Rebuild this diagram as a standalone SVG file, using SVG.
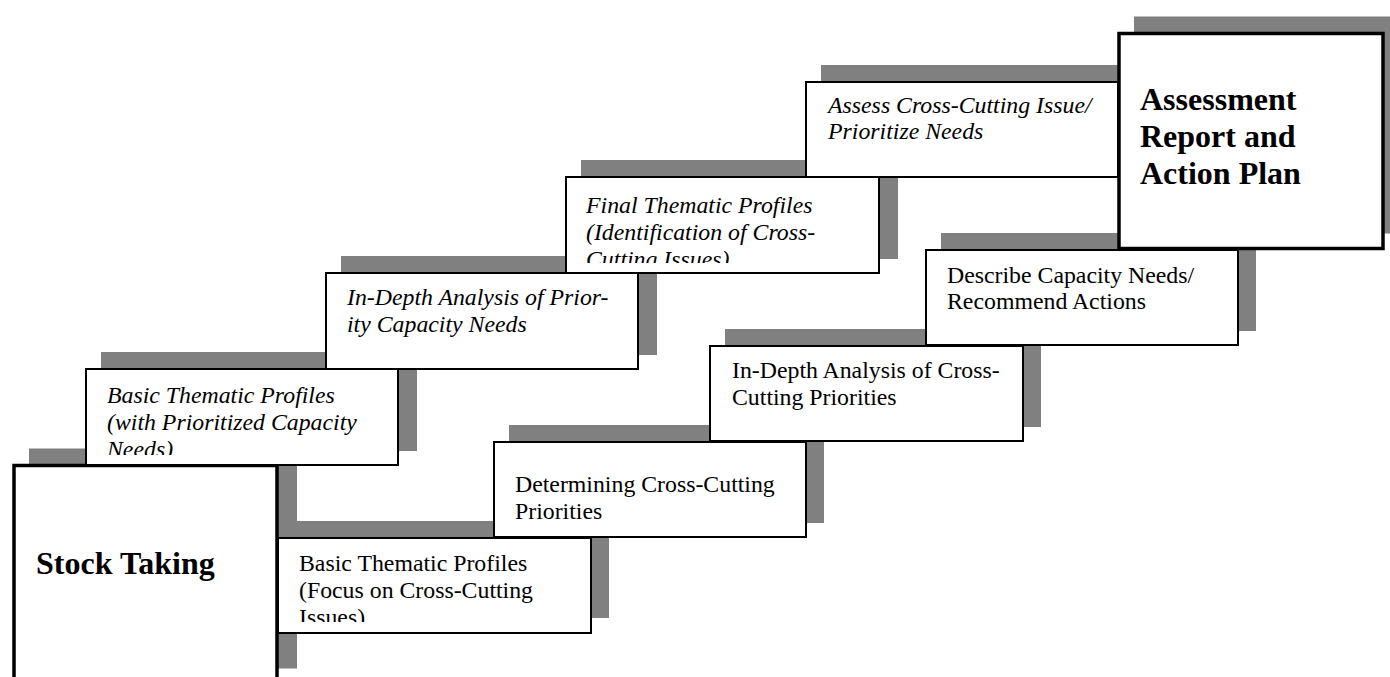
<svg xmlns="http://www.w3.org/2000/svg" width="1390" height="677" viewBox="0 0 1390 677">
<style>
.bg{fill:#ffffff}
.sh{fill:#808080}
.box{fill:#ffffff;stroke:#000000;stroke-width:2}
.big{fill:#ffffff;stroke:#000000;stroke-width:3.5}
.it{font-family:"Liberation Serif","Times New Roman",serif;font-style:italic;font-size:23.8px;fill:#000000}
.rg{font-family:"Liberation Serif","Times New Roman",serif;font-size:23.8px;fill:#000000}
.bd{font-family:"Liberation Serif","Times New Roman",serif;font-weight:bold;font-size:32px;fill:#000000}
</style>
<defs>
<clipPath id="cA1"><rect x="86" y="369" width="312" height="86"/></clipPath>
<clipPath id="cA3"><rect x="566" y="177" width="313" height="86"/></clipPath>
<clipPath id="cB1"><rect x="278" y="538" width="313" height="84"/></clipPath>
</defs>
<rect class="bg" x="0" y="0" width="1390" height="677"/>
<g id="shadows">
<rect class="sh" x="29" y="448.5" width="268" height="220"/>
<rect class="sh" x="101" y="352" width="316" height="99"/>
<rect class="sh" x="341" y="256" width="316" height="99"/>
<rect class="sh" x="581" y="160" width="317" height="99"/>
<rect class="sh" x="821" y="65" width="316" height="98"/>
<rect class="sh" x="1134" y="16.5" width="256" height="217"/>
<rect class="sh" x="293" y="521" width="316" height="97"/>
<rect class="sh" x="509" y="425" width="315" height="98"/>
<rect class="sh" x="725" y="329" width="316" height="98"/>
<rect class="sh" x="941" y="233" width="315" height="98"/>
</g>
<g id="connectors"></g>
<g id="stock-taking">
<rect class="big" x="14" y="465.5" width="263" height="220"/>
<text class="bd" x="36" y="574">Stock Taking</text>
</g>
<g id="basic-thematic-prioritized">
<rect class="box" x="86" y="369" width="312" height="96"/>
<g clip-path="url(#cA1)">
<text class="it" x="107" y="403">Basic Thematic Profiles</text>
<text class="it" x="107" y="430">(with Prioritized Capacity</text>
<text class="it" x="107" y="457">Needs)</text>
</g>
</g>
<g id="indepth-priority">
<rect class="box" x="326" y="273" width="312" height="96"/>
<text class="it" x="347" y="305">In-Depth Analysis of Prior-</text>
<text class="it" x="347" y="332">ity Capacity Needs</text>
</g>
<g id="final-thematic">
<rect class="box" x="566" y="177" width="313" height="96"/>
<g clip-path="url(#cA3)">
<text class="it" x="586" y="213">Final Thematic Profiles</text>
<text class="it" x="586" y="240">(Identification of Cross-</text>
<text class="it" x="586" y="267">Cutting Issues)</text>
</g>
</g>
<g id="assess-crosscutting">
<rect class="box" x="806" y="82" width="312" height="95"/>
<text class="it" x="828" y="113">Assess Cross-Cutting Issue/</text>
<text class="it" x="828" y="139">Prioritize Needs</text>
</g>
<g id="basic-thematic-focus">
<rect class="box" x="278" y="538" width="313" height="95"/>
<g clip-path="url(#cB1)">
<text class="rg" x="299" y="571">Basic Thematic Profiles</text>
<text class="rg" x="299" y="598">(Focus on Cross-Cutting</text>
<text class="rg" x="299" y="625">Issues)</text>
</g>
</g>
<g id="determining">
<rect class="box" x="494" y="442" width="312" height="95"/>
<text class="rg" x="515" y="492">Determining Cross-Cutting</text>
<text class="rg" x="515" y="519">Priorities</text>
</g>
<g id="indepth-crosscutting">
<rect class="box" x="710" y="346" width="313" height="95"/>
<text class="rg" x="732" y="378">In-Depth Analysis of Cross-</text>
<text class="rg" x="732" y="405">Cutting Priorities</text>
</g>
<g id="describe">
<rect class="box" x="926" y="250" width="312" height="95"/>
<text class="rg" x="947" y="283">Describe Capacity Needs/</text>
<text class="rg" x="947" y="309">Recommend Actions</text>
</g>
<g id="assessment-report">
<rect class="big" x="1119" y="33.5" width="264" height="215"/>
<text class="bd" x="1140" y="110">Assessment</text>
<text class="bd" x="1140" y="147">Report and</text>
<text class="bd" x="1140" y="184">Action Plan</text>
</g>
</svg>
